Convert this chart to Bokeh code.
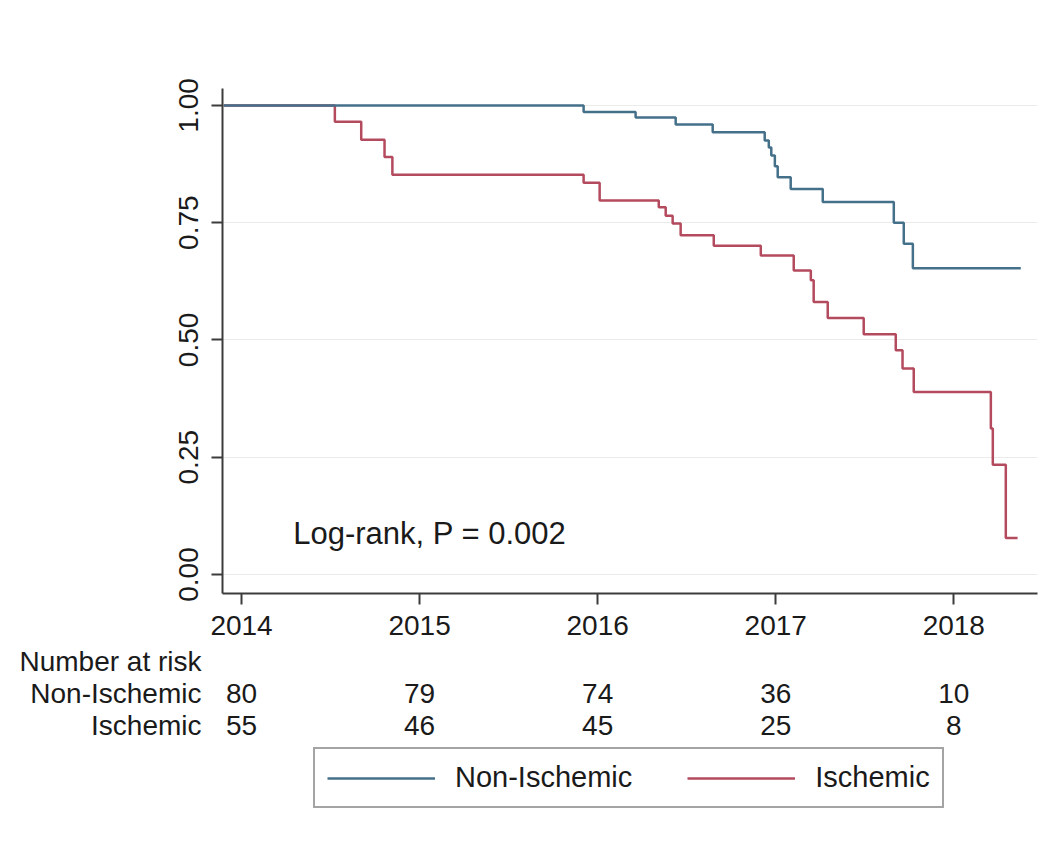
from bokeh.plotting import figure
from bokeh.layouts import column
from bokeh.models import (Range1d, FixedTicker, NumeralTickFormatter, Label,
                          Legend, LegendItem)
from bokeh.core.properties import value
from bokeh.embed import file_html
from bokeh.resources import INLINE

# ---------------- data ----------------
years = [2014, 2015, 2016, 2017, 2018]
year_labels = ["2014", "2015", "2016", "2017", "2018"]
y_ticks = [0.0, 0.25, 0.5, 0.75, 1.0]

groups = ["Non-Ischemic", "Ischemic"]
risk_rows = ["Number at risk", "Non-Ischemic", "Ischemic"]

time_non = [2013.9, 2015.921, 2016.213, 2016.438, 2016.646, 2016.938, 2016.961,
            2016.975, 2016.995, 2017.011, 2017.084, 2017.264, 2017.663, 2017.719,
            2017.770, 2018.376]
surv_non = [1.0, 0.986, 0.974, 0.959, 0.943, 0.925, 0.910,
            0.893, 0.870, 0.847, 0.822, 0.794, 0.750, 0.705,
            0.653, 0.653]

time_isc = [2013.9, 2014.524, 2014.672, 2014.803, 2014.847, 2015.921, 2016.011,
            2016.343, 2016.382, 2016.421, 2016.466, 2016.652, 2016.916, 2017.101,
            2017.197, 2017.213, 2017.292, 2017.494, 2017.674, 2017.712, 2017.775,
            2018.208, 2018.219, 2018.292, 2018.358]
surv_isc = [1.0, 0.965, 0.927, 0.890, 0.852, 0.835, 0.797,
            0.783, 0.765, 0.748, 0.723, 0.701, 0.680, 0.648,
            0.627, 0.581, 0.547, 0.512, 0.478, 0.439, 0.389,
            0.311, 0.234, 0.078, 0.078]

risk_non = [80, 79, 74, 36, 10]
risk_isc = [55, 46, 45, 25, 8]

annotation = "Log-rank, P = 0.002"

# ---------------- style / layout ----------------
BLUE = "#44708a"
RED = "#b44a5e"
TXT = "#1a1a1a"
AXC = "#3c3c3c"
FONT = "Liberation Sans"
FS = "28px"

W = 1050
BL, BR = 222, 13
H1, BT, BB = 645, 88, 52
H2 = 190
ROW = 32.5  # px between table rows

x0, x1 = 2013.893, 2018.47
y0, y1 = -0.0405, 1.036
shared_x = Range1d(x0, x1)

p = figure(width=W, height=H1, output_backend="svg", toolbar_location=None,
           x_range=shared_x, y_range=Range1d(y0, y1),
           min_border_left=BL, min_border_right=BR,
           min_border_top=BT, min_border_bottom=BB)
p.outline_line_color = None
p.background_fill_color = "white"
p.border_fill_color = "white"

p.step(time_isc, surv_isc, mode="after", line_color=RED, line_width=2.5)
p.step(time_non, surv_non, mode="after", line_color=BLUE, line_width=2.5)

p.xgrid.visible = False
p.ygrid.grid_line_color = "#ebebeb"
p.ygrid.grid_line_width = 1.2

for ax in (p.xaxis[0], p.yaxis[0]):
    ax.axis_line_color = AXC
    ax.axis_line_width = 2
    ax.major_tick_line_color = AXC
    ax.major_tick_line_width = 2
    ax.major_tick_in = 0
    ax.major_tick_out = 11
    ax.minor_tick_line_color = None
    ax.major_label_text_font = FONT
    ax.major_label_text_font_size = FS
    ax.major_label_text_color = TXT

p.xaxis[0].ticker = FixedTicker(ticks=years)
p.xaxis[0].major_label_overrides = {y: s for y, s in zip(years, year_labels)}
p.xaxis[0].major_label_standoff = 11
p.yaxis[0].ticker = FixedTicker(ticks=y_ticks)
p.yaxis[0].formatter = NumeralTickFormatter(format="0.00")
p.yaxis[0].major_label_orientation = "parallel"
p.yaxis[0].major_label_standoff = 13

p.add_layout(Label(x=2014.29, y=0.087, text=annotation, text_font=FONT,
                   text_font_size="31px", text_color=TXT,
                   text_baseline="middle", text_align="left"))

# ---------------- number-at-risk table + legend ----------------
top_pad = 15 / ROW
p2 = figure(width=W, height=H2, output_backend="svg", toolbar_location=None,
            x_range=shared_x,
            y_range=Range1d(H2 / ROW - top_pad, -top_pad),
            x_axis_location=None, y_axis_location="left",
            min_border_left=BL, min_border_right=BR,
            min_border_top=0, min_border_bottom=0)
p2.outline_line_color = None
p2.xgrid.visible = False
p2.ygrid.visible = False

ya = p2.yaxis[0]
ya.ticker = FixedTicker(ticks=[0, 1, 2])
ya.major_label_overrides = {i: s for i, s in enumerate(risk_rows)}
ya.axis_line_color = None
ya.major_tick_line_color = None
ya.minor_tick_line_color = None
ya.major_tick_out = 0
ya.major_tick_in = 0
ya.major_label_standoff = 21
ya.major_label_text_font = FONT
ya.major_label_text_font_size = FS
ya.major_label_text_color = TXT

common = dict(text_font=value(FONT), text_font_size=FS, text_color=TXT,
              text_baseline="middle", text_align="center")
p2.text(x=years, y=[1] * len(years), text=[str(v) for v in risk_non], **common)
p2.text(x=years, y=[2] * len(years), text=[str(v) for v in risk_isc], **common)

nan = float("nan")
rb = p2.line(x=[nan], y=[nan], line_color=BLUE, line_width=2.5)
rr = p2.line(x=[nan], y=[nan], line_color=RED, line_width=2.5)
legend = Legend(items=[LegendItem(label=groups[0], renderers=[rb]),
                       LegendItem(label=groups[1], renderers=[rr])],
                orientation="horizontal", location=(91, 27),
                glyph_width=108, glyph_height=26, label_height=26,
                label_standoff=20, spacing=55, padding=12, margin=0,
                label_text_font=FONT, label_text_font_size="29px",
                label_text_color=TXT,
                border_line_color="#4a4a4a", border_line_width=2,
                background_fill_color="white", background_fill_alpha=1.0)
p2.add_layout(legend)

layout = column(p, p2, spacing=0)
open("out.html", "w").write(file_html(layout, INLINE))
